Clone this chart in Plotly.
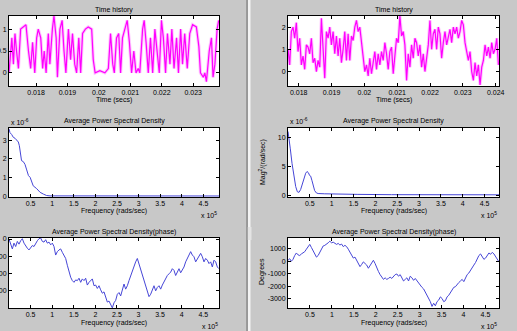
import plotly.graph_objects as go

W, H = 517, 331
BG = "#c8c8c8"
FONT = "Liberation Sans, Arial, sans-serif"

# ---------------- data ----------------
# Left panel: time history
left_time = [0.01714, 0.01723, 0.01728, 0.01733, 0.01738, 0.01744, 0.01751, 0.01760, 0.01768, 0.01776,
             0.01783, 0.01789, 0.01796, 0.01802, 0.01807, 0.01815, 0.01821, 0.01826, 0.01832, 0.01839,
             0.01844, 0.01852, 0.01857, 0.01864, 0.01868, 0.01876, 0.01883, 0.01889, 0.01895, 0.01903,
             0.01910, 0.01916, 0.01923, 0.01929, 0.01936, 0.01942, 0.01948, 0.01957, 0.01966, 0.01977,
             0.01982, 0.01988, 0.02003, 0.02019, 0.02030, 0.02037, 0.02044, 0.02049, 0.02056, 0.02063,
             0.02069, 0.02075, 0.02083, 0.02090, 0.02097, 0.02104, 0.02111, 0.02118, 0.02125, 0.02130,
             0.02139, 0.02144, 0.02150, 0.02157, 0.02164, 0.02171, 0.02178, 0.02186, 0.02192, 0.02199,
             0.02205, 0.02212, 0.02218, 0.02226, 0.02232, 0.02239, 0.02247, 0.02253, 0.02260, 0.02266,
             0.02273, 0.02281, 0.02289, 0.02298, 0.02310, 0.02318, 0.02323, 0.02332, 0.02337, 0.02342,
             0.02351, 0.02358, 0.02363, 0.02369, 0.02376, 0.02381]
left_signal = [0.0, 0.8, 0.2, 0.9, 0.5, 0.1, 1.0, 1.05, 1.1, 0.5,
               0.1, 0.7, 0.0, 0.8, 1.0, 0.8, 0.1, 0.5, 0.0, 0.9,
               0.2, 1.0, 1.3, 0.8, -0.1, 1.0, 1.2, 0.5, 0.0, 1.0,
               0.3, 0.9, 0.2, 0.0, 0.8, 0.0, 0.9, 1.0, 1.05, 1.0,
               0.3, 0.0, 0.05, 0.0, 0.1, 0.9, 0.2, 0.0, 0.8, 0.9,
               0.0, 0.8, 1.0, 1.2, 0.7, 0.0, 0.5, 0.0, 0.1, 0.0,
               1.0, 1.2, 0.7, 0.0, 0.8, 0.0, 1.0, 0.5, 0.0, 1.2,
               0.8, 0.0, 0.9, 0.2, 1.0, 0.1, 0.8, 0.0, 1.0, 0.2,
               0.9, 0.1, 0.9, 1.1, 1.05, 0.6, 0.0, -0.1, 0.0, -0.2,
               0.5, 0.8, -0.1, 0.2, 1.0, 1.2]

# Right panel: time history (sampled every ~5.09e-5 s from 0.017674 s)
right_t0 = 0.017674
right_dt = 0.00005086
right_signal = [1.0, 0.3, 1.8, 2.0, 1.5, 2.2, 0.9, 1.5, 0.3, 0.7,
                0.1, 1.2, 1.1, 0.8, 1.5, 0.4, 0.6, 0.0, 0.5, 0.2,
                2.4, 0.8, -0.3, 1.8, 1.5, 2.0, 1.2, 1.8, 0.8, 1.6,
                0.7, 1.5, 0.4, 1.0, 1.8, 0.5, 1.7, 0.5, 1.6, 1.4,
                2.0, 2.3, 1.8, 2.0, 1.3, 0.5, 0.0, 0.3, -0.2, 0.6,
                -0.1, 0.4, 0.9, 0.1, 0.8, 0.3, 0.9, 0.5, 1.3, 0.8,
                0.1, 0.9, 1.1, -0.1, 0.7, 1.5, 1.3, 2.5, 1.6, 1.8,
                1.2, -0.4, 0.8, 0.2, 1.2, 0.6, 1.5, 1.3, 0.7, 1.2,
                0.2, 0.8, 0.0, 0.5, 1.2, 2.3, 1.0, 1.7, 1.9, 1.0,
                2.0, 1.7, 0.6, 1.3, 1.8, 1.2, 1.5, 1.9, 1.3, 2.0,
                1.7, 2.0, 1.5, 1.8, 2.3, 2.1, 1.3, 0.9, 0.5, 0.9,
                0.0, -0.4, 0.4, -0.2, 0.3, -0.6, 0.2, 0.5, 1.2, 0.7,
                1.1, 0.6, 1.3, 0.8, 1.0, 1.5, 0.3]
right_time = [right_t0 + i * right_dt for i in range(len(right_signal))]

# Average power spectral density (x 1e5 rad/s, x 1e-6)
left_psd_freq = [0.0, 0.023, 0.062, 0.10, 0.139, 0.178, 0.216, 0.24, 0.27, 0.29,
                 0.33, 0.37, 0.41, 0.45, 0.49, 0.525, 0.56, 0.64, 0.72, 0.80,
                 0.87, 0.95, 1.1, 1.5, 2.0, 2.5, 3.0, 3.5, 4.0, 4.5, 4.86]
left_psd = [3.6, 3.4, 3.3, 3.15, 3.1, 3.0, 2.9, 2.7, 2.3, 1.9,
            1.85, 1.7, 1.4, 1.1, 1.0, 0.7, 0.55, 0.4, 0.2, 0.1,
            0.03, 0.01, 0.01, 0.005, 0.005, 0.005, 0.005, 0.005, 0.005, 0.005, 0.005]

right_psd_freq = [0.0, 0.023, 0.053, 0.092, 0.137, 0.176, 0.214, 0.252, 0.29, 0.328,
                  0.366, 0.405, 0.435, 0.466, 0.496, 0.519, 0.55, 0.58, 0.61, 0.65,
                  0.69, 0.84, 1.07, 1.6, 2.37, 3.0, 4.0, 4.85]
right_psd = [11.0, 10.0, 8.0, 5.5, 3.0, 1.5, 0.6, 0.5, 1.0, 2.0,
             3.0, 3.8, 4.1, 3.9, 3.4, 3.3, 2.5, 1.5, 0.8, 0.4,
             0.3, 0.25, 0.2, 0.15, 0.1, 0.08, 0.08, 0.08]

# Average PSD phase (degrees), frequency bins every ~0.0386e5 rad/s
left_phase_df = 0.03861
left_phase = [0, -335, -572, -237, -434, -138, -296, -99, 20, -237,
              -434, -532, -631, -493, -375, -434, -237, -99, 20, 59,
              -138, -177, -39, -237, -177, -335, -237, -434, -927, -730,
              -631, -572, -769, -927, -1124, -1518, -1913, -2209, -2406, -2504,
              -2366, -2406, -2268, -2504, -2307, -2406, -2268, -2662, -2504, -2406,
              -2307, -2702, -2662, -2859, -2702, -2938, -3135, -3057, -3392, -3648,
              -3589, -3786, -3983, -3688, -3550, -3195, -3096, -3293, -2997, -2603,
              -2899, -2702, -2406, -2110, -1913, -1617, -1321, -1124, -1420, -1716,
              -2110, -2406, -2702, -2997, -3333, -3195, -2899, -2702, -2997, -2800,
              -2702, -2899, -2662, -2465, -2307, -2110, -2011, -1913, -1716, -1814,
              -2110, -1913, -1716, -1952, -1814, -1617, -1321, -1124, -927, -730,
              -927, -1025, -1321, -1124, -927, -828, -1025, -1321, -1124, -1223,
              -1420, -1321, -1617, -1223, -1321, -1617, -1716]
left_phase_freq = [i * left_phase_df for i in range(len(left_phase))]

right_phase_df = 0.03817
right_phase = [76, 203, 0, 152, 456, 658, 506, 456, 582, 658,
               760, 962, 1165, 1342, 1089, 835, 582, 329, 456, 709,
               962, 1215, 1266, 1342, 1468, 1595, 1468, 1519, 1418, 1342,
               1418, 1291, 1367, 1165, 1266, 1165, 962, 709, 456, 253,
               329, 76, -177, -430, -253, -51, -177, -304, -557, -304,
               -177, 76, -177, -557, -810, -1063, -1316, -1443, -1316, -1443,
               -1367, -1266, -1367, -1190, -1063, -1013, -1190, -1063, -1316, -1570,
               -1443, -1316, -1570, -1190, -1316, -1519, -1367, -1570, -1696, -1949,
               -2076, -2203, -2456, -2709, -2962, -3215, -3595, -3342, -3544, -3215,
               -3089, -2835, -2962, -3215, -3139, -2835, -2709, -2456, -2329, -2076,
               -2025, -1823, -1696, -1570, -1443, -1620, -1316, -1063, -937, -684,
               -557, -304, -101, 203, 456, 582, 329, 152, 253, 456,
               658, 557, 709, 582, 329, 203, -51]
right_phase_freq = [i * right_phase_df for i in range(len(right_phase))]

freq_ticks = [0.5, 1, 1.5, 2, 2.5, 3, 3.5, 4, 4.5]
freq_ticktext = ["0.5", "1", "1.5", "2", "2.5", "3", "3.5", "4", "4.5"]
left_time_ticks = [0.018, 0.019, 0.020, 0.021, 0.022, 0.023]
left_time_ticktext = ["0.018", "0.019", "0.02", "0.021", "0.022", "0.023"]
right_time_ticks = [0.018, 0.019, 0.020, 0.021, 0.022, 0.023, 0.024]
right_time_ticktext = ["0.018", "0.019", "0.02", "0.021", "0.022", "0.023", "0.024"]

# ---------------- layout helpers ----------------
def px(x):
    return x / W

def py(y):
    return 1 - y / H

COL_L = (9, 219)
COL_R = (288, 499)
ROWS = [(16, 86), (128, 197), (238, 308)]

MAG = "#ff00ff"
MAG_HALO = "rgba(255,90,255,0.35)"
BLUE = "rgb(70,70,215)"

fig = go.Figure()

def add(trace_x, trace_y, color, idx, width=1.0):
    fig.add_trace(go.Scatter(x=trace_x, y=trace_y, mode="lines",
                             line=dict(color=color, width=width),
                             xaxis="x" if idx == 1 else f"x{idx}",
                             yaxis="y" if idx == 1 else f"y{idx}",
                             showlegend=False, hoverinfo="skip"))

# magenta time histories: soft halo + core line
add(left_time, left_signal, MAG_HALO, 1, width=3.2)
add(left_time, left_signal, MAG, 1, width=1.2)
add(right_time, right_signal, MAG_HALO, 2, width=3.2)
add(right_time, right_signal, MAG, 2, width=1.2)
add(left_psd_freq, left_psd, BLUE, 3)
add(right_psd_freq, right_psd, BLUE, 4)
add(left_phase_freq, left_phase, BLUE, 5)
add(right_phase_freq, right_phase, BLUE, 6)

tickfont = dict(family=FONT, size=7, color="black")

def axis_common():
    return dict(showline=True, linecolor="black", linewidth=1, mirror="ticks",
                ticks="inside", ticklen=3, tickcolor="black", tickwidth=1,
                showgrid=False, zeroline=False, tickfont=tickfont,
                automargin=False, fixedrange=True)

specs = [
    # idx, col, row, xrange, xticks, xtext, yrange, yticks, ytext
    (1, COL_L, 0, [0.01714, 0.02382], left_time_ticks, left_time_ticktext,
     [-0.3, 1.3], [0, 0.5, 1], ["0", "0.5", "1"]),
    (2, COL_R, 0, [0.017674, 0.0241], right_time_ticks, right_time_ticktext,
     [-0.65, 2.5], [0, 1, 2], ["0", "1", "2"]),
    (3, COL_L, 1, [0, 4.86], freq_ticks, freq_ticktext,
     [-0.05, 3.65], [0, 1, 2, 3], ["0", "1", "2", "3"]),
    (4, COL_R, 1, [0, 4.83], freq_ticks, freq_ticktext,
     [-0.3, 11.6], [0, 5, 10], ["0", "5", "10"]),
    (5, COL_L, 2, [0, 4.865], freq_ticks, freq_ticktext,
     [-3990, 60], [-3000, -2000, -1000, 0], ["-3000", "-2000", "-1000", "0"]),
    (6, COL_R, 2, [0, 4.81], freq_ticks, freq_ticktext,
     [-3720, 1850], [-3000, -2000, -1000, 0, 1000], ["-3000", "-2000", "-1000", "0", "1000"]),
]

layout = dict(width=W, height=H, autosize=False,
              margin=dict(l=0, r=0, t=0, b=0, pad=0),
              paper_bgcolor=BG, plot_bgcolor="white",
              font=dict(family=FONT, size=7, color="black"),
              showlegend=False)

for idx, col, row, xr, xt, xtt, yr, yt, ytt in specs:
    xa = axis_common()
    xa.update(domain=[px(col[0]), px(col[1])], range=xr, tickvals=xt, ticktext=xtt,
              anchor="y" if idx == 1 else f"y{idx}")
    ya = axis_common()
    ya.update(domain=[py(ROWS[row][1]), py(ROWS[row][0])], range=yr, tickvals=yt, ticktext=ytt,
              anchor="x" if idx == 1 else f"x{idx}")
    layout["xaxis" if idx == 1 else f"xaxis{idx}"] = xa
    layout["yaxis" if idx == 1 else f"yaxis{idx}"] = ya

fig.update_layout(**layout)

ann = []
def text(x, y, s, xanchor="center", yanchor="middle", size=7, angle=0):
    ann.append(dict(x=px(x), y=py(y), xref="paper", yref="paper", text=s, showarrow=False,
                    xanchor=xanchor, yanchor=yanchor, textangle=angle,
                    font=dict(family=FONT, size=size, color="black")))

# titles
for col in (COL_L, COL_R):
    cx = (col[0] + col[1]) / 2
    text(cx, 9.5, "Time history")
    text(cx, 100.5, "Time (secs)")
    text(cx, 121, "Average Power Spectral Density")
    text(cx, 211.5, "Frequency (rads/sec)")
    text(cx, 231.5, "Average Power Spectral Density(phase)")
    text(cx, 322.5, "Frequency (rads/sec)")

# exponent labels
text(COL_L[0], 121.5, "x 10<sup>-6</sup>", xanchor="left")
text(COL_R[0], 121, "x 10<sup>-6</sup>", xanchor="left")
text(COL_L[1], 215, "x 10<sup>5</sup>", xanchor="right")
text(COL_R[1], 215, "x 10<sup>5</sup>", xanchor="right")
text(COL_L[1] + 1, 326, "x 10<sup>5</sup>", xanchor="right")
text(COL_R[1], 326, "x 10<sup>5</sup>", xanchor="right")

# y-axis titles on right panel
text(263, 162, "Mag<sup>2</sup>/(rad/sec)", angle=-90)
text(262, 272, "Degrees", angle=-90)

fig.update_layout(annotations=ann)

# splitter between the two panels
shapes = [
    dict(type="rect", xref="paper", yref="paper", x0=px(246.5), x1=px(247.8), y0=0, y1=1,
         line=dict(width=0), fillcolor="#6e6e6e", layer="above"),
    dict(type="rect", xref="paper", yref="paper", x0=px(247.8), x1=px(250.5), y0=0, y1=1,
         line=dict(width=0), fillcolor="#f4f4f4", layer="above"),
    dict(type="rect", xref="paper", yref="paper", x0=px(247.8), x1=px(251.5), y0=py(240), y1=py(227),
         line=dict(width=0), fillcolor="#e4e4e4", layer="above"),
]
fig.update_layout(shapes=shapes)

fig.write_html("out.html")
